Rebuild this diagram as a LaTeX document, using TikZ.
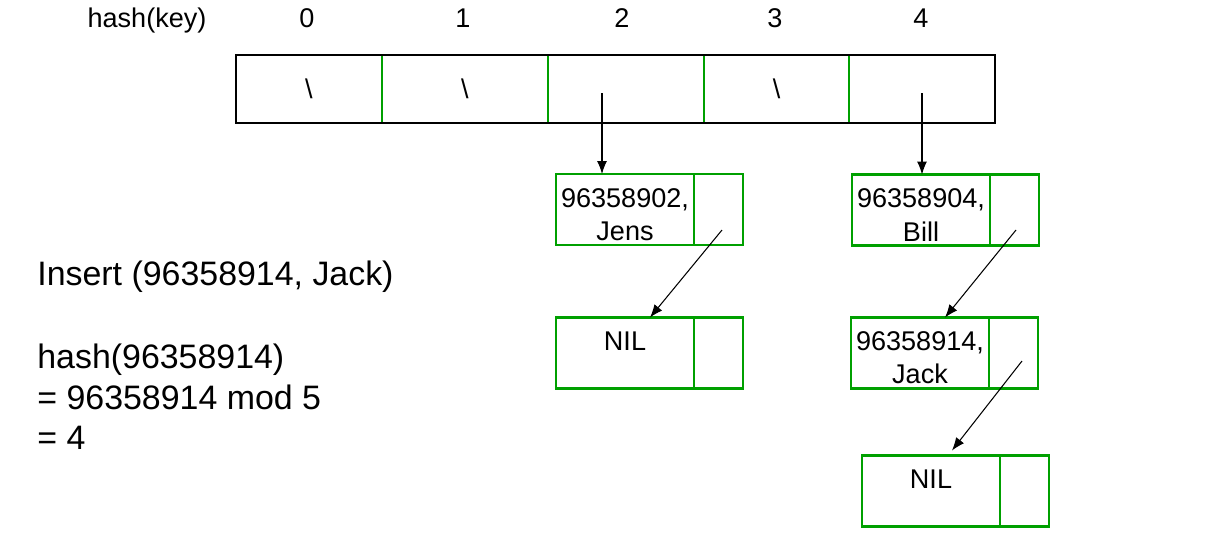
\documentclass[tikz,border=0pt]{standalone}
\usepackage{fontspec}
\setmainfont{Liberation Sans}
\usetikzlibrary{arrows.meta,positioning}
\definecolor{boxgreen}{RGB}{0,160,0}
\newcommand{\keystrut}{\rule{0pt}{16.5pt}}

\begin{document}
\begin{tikzpicture}[x=0.02cm,y=-0.02cm,
	cell/.style={minimum height=1.36cm,inner sep=0pt,outer sep=0pt,font=\fontsize{15.4}{18.8}\selectfont},
	idx/.style={anchor=base,inner sep=0pt,font=\fontsize{15.4}{18.8}\selectfont},
	keybox/.style={draw=boxgreen,line width=1.5pt,minimum width=2.76cm,minimum height=1.42cm,inner sep=0pt,outer sep=0pt,align=center,font=\fontsize{15.4}{18.8}\selectfont},
	ptrbox/.style={draw=boxgreen,line width=1.5pt,minimum width=0.98cm,minimum height=1.42cm,inner sep=0pt,outer sep=0pt},
	link/.style={black,-{Latex[length=2.6mm,width=2mm]},line width=0.6pt},
	note/.style={anchor=north west,inner sep=0pt,align=left,font=\fontsize{19.3}{23}\selectfont}]
	\useasboundingbox (0,0) rectangle (1230,532);

	% hash table
	\foreach \n/\x/\w/\t in {0/309/146/\textbackslash,1/465/166/\textbackslash,2/626/156/,3/776.5/145/\textbackslash,4/922/146/}
		\node[cell,minimum width=\w*0.02cm] (c\n) at (\x,89) {\t};
	\foreach \n in {0,...,3}
		\draw[boxgreen,line width=1.2pt] (c\n.north east) -- (c\n.south east);
	\draw[line width=0.8pt] (c0.north west) rectangle (c4.south east);

	\node[idx] (hk) at (147,27) {hash(key)};
	\foreach \n/\x in {0/307,1/463,2/622,3/775,4/921}
		\node[idx] (i\n) at (\x,27) {\n};

	% chains
	\node[keybox] (jens) at (625,209.5) {\keystrut 96358902,\\Jens};
	\node[ptrbox,right=0pt of jens] (jensp) {};
	\node[keybox] (nilA) at (625,353) {\keystrut NIL\\\mbox{}};
	\node[ptrbox,right=0pt of nilA] (nilAp) {};
	\node[keybox] (bill) at (921,210) {\keystrut 96358904,\\Bill};
	\node[ptrbox,right=0pt of bill] (billp) {};
	\node[keybox] (jack) at (920,353) {\keystrut 96358914,\\Jack};
	\node[ptrbox,right=0pt of jack] (jackp) {};
	\node[keybox] (nilB) at (931,491) {\keystrut NIL\\\mbox{}};
	\node[ptrbox,right=0pt of nilB] (nilBp) {};

	\coordinate (s2) at (602,93);
	\coordinate (s4) at (922,93);
	\coordinate (sj) at (722,230);
	\coordinate (sb) at (1016,230);
	\coordinate (sk) at (1022,361);
	\draw[link] (s2) -- (s2 |- jens.north);
	\draw[link] (s4) -- (s4 |- bill.north);
	\draw[link] (sj) -- ([xshift=0.5cm]nilA.north);
	\draw[link] (sb) -- ([xshift=0.5cm]jack.north);
	\draw[link] (sk) -- ([xshift=0.42cm,yshift=0.1cm]nilB.north);

	% insertion
	\node[note] (ins) at (37,261) {Insert (96358914, Jack)};
	\node[note] (calc) at (37,344) {hash(96358914)\\= 96358914 mod 5\\= 4};
\end{tikzpicture}
\end{document}
